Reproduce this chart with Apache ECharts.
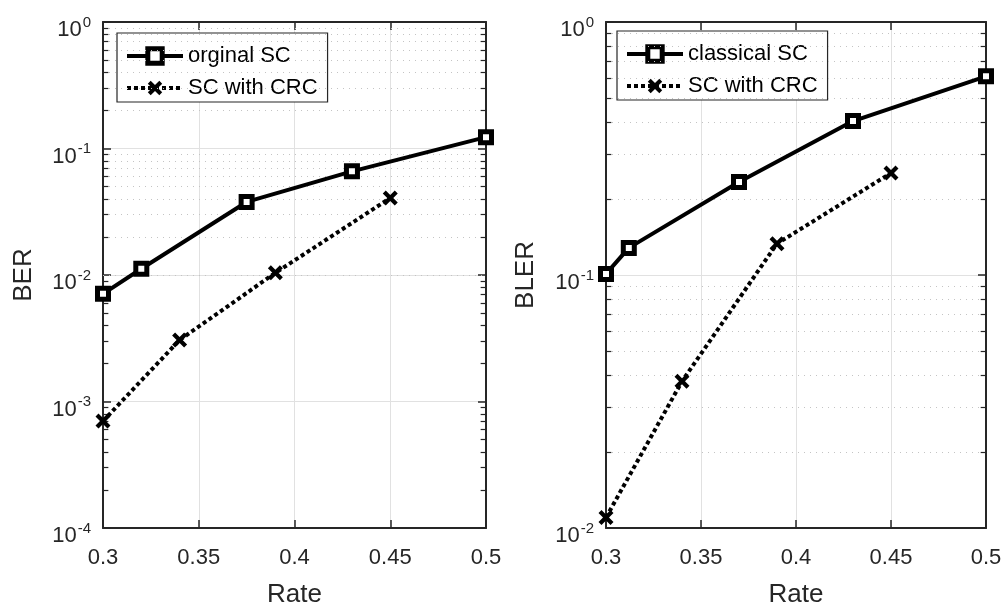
<!DOCTYPE html>
<html>
<head>
<meta charset="utf-8">
<script src="https://cdn.jsdelivr.net/npm/echarts@6/dist/echarts.min.js"></script>
<style>
  html, body { margin: 0; padding: 0; background: #fff; }
  #chart { width: 1006px; height: 605px; }
</style>
</head>
<body>
<div id="chart"></div>
<script>
// Left panel: bit error rate vs. code rate
const ratesOriginal = [0.3, 0.32, 0.375, 0.43, 0.5];
const berOriginal = [0.0071, 0.0112, 0.0378, 0.066, 0.123];
const ratesCrcLeft = [0.3, 0.34, 0.39, 0.45];
const berCrc = [0.0007, 0.00306, 0.0104, 0.0406];

// Right panel: block error rate vs. code rate
const ratesClassical = [0.3, 0.312, 0.37, 0.43, 0.5];
const blerClassical = [0.101, 0.128, 0.233, 0.406, 0.61];
const ratesCrcRight = [0.3, 0.34, 0.39, 0.45];
const blerCrc = [0.011, 0.038, 0.133, 0.253];

const legendLeft = ['orginal SC', 'SC with CRC'];
const legendRight = ['classical SC', 'SC with CRC'];
const xLabel = 'Rate';
const yLabelLeft = 'BER';
const yLabelRight = 'BLER';

const FONT = '"Liberation Sans", Arial, Helvetica, sans-serif';
const INK = '#262626';
const X_MIN = 0.3, X_MAX = 0.5, X_STEP = 0.05;

const chart = echarts.init(document.getElementById('chart'), null, { renderer: 'canvas' });

const crossPath = 'path://M0,2 L2,0 L5,3 L8,0 L10,2 L7,5 L10,8 L8,10 L5,7 L2,10 L0,8 L3,5 Z';

function pairs(xs, ys) { return xs.map((x, i) => [x, ys[i]]); }

function minorValues(lowExp, highExp) {
  const out = [];
  for (let e = lowExp; e < highExp; e++) {
    for (let k = 2; k <= 9; k++) out.push(k * Math.pow(10, e));
  }
  return out;
}

function logLabel(v) {
  const e = Math.round(Math.log10(v));
  return '{b|10}{s|' + e + '}';
}

function xAxes(gridIndex) {
  return [
    {
      type: 'value', gridIndex, position: 'bottom', min: X_MIN, max: X_MAX, interval: X_STEP,
      name: xLabel, nameLocation: 'middle', nameGap: 54,
      nameTextStyle: { fontFamily: FONT, fontSize: 26, color: INK },
      axisLine: { show: true, lineStyle: { color: INK, width: 2 } },
      axisTick: { show: true, inside: true, length: 8, lineStyle: { color: INK, width: 1.5 } },
      axisLabel: { fontFamily: FONT, fontSize: 22, color: INK, margin: 19,
        formatter: v => String(+v.toFixed(2)) },
      splitLine: { show: true, lineStyle: { color: '#e1e1e1', width: 1 } }
    },
    {
      type: 'value', gridIndex, position: 'top', min: X_MIN, max: X_MAX, interval: X_STEP,
      axisLine: { show: true, lineStyle: { color: INK, width: 2 } },
      axisTick: { show: true, inside: true, length: 8, lineStyle: { color: INK, width: 1.5 } },
      axisLabel: { show: false },
      splitLine: { show: false }
    }
  ];
}

function yAxes(gridIndex, min, name, gap) {
  const common = {
    type: 'log', logBase: 10, gridIndex, min, max: 1,
    axisLine: { show: true, lineStyle: { color: INK, width: 2 } },
    axisTick: { show: true, inside: true, length: 8, lineStyle: { color: INK, width: 1.5 } }
  };
  return [
    Object.assign({}, common, {
      position: 'left',
      name, nameLocation: 'middle', nameGap: gap,
      nameTextStyle: { fontFamily: FONT, fontSize: 26, color: INK },
      axisLabel: {
        margin: 12, formatter: logLabel, padding: [16, 0, 0, 0],
        rich: {
          b: { fontFamily: FONT, fontSize: 22, color: INK },
          s: { fontFamily: FONT, fontSize: 15, color: INK, padding: [0, 0, 15, 1] }
        }
      },
      splitLine: { show: true, lineStyle: { color: '#e1e1e1', width: 1 } }
    }),
    Object.assign({}, common, {
      position: 'right',
      axisLabel: { show: false },
      splitLine: { show: false }
    })
  ];
}

// Dotted minor grid plus short inward minor ticks on both vertical edges
function minorGridSeries(xAxisIndex, yAxisIndex, lowExp) {
  const tickSpan = (X_MAX - X_MIN) * 0.014;
  const vals = minorValues(lowExp, 0);
  const lines = vals.map(v => ({ yAxis: v }));
  const ticks = [];
  vals.forEach(v => {
    ticks.push([{ coord: [X_MIN, v], lineStyle: { type: 'solid', color: INK, width: 1.2 } },
                { coord: [X_MIN + tickSpan, v] }]);
    ticks.push([{ coord: [X_MAX - tickSpan, v], lineStyle: { type: 'solid', color: INK, width: 1.2 } },
                { coord: [X_MAX, v] }]);
  });
  return {
    type: 'line', xAxisIndex, yAxisIndex, data: [], z: 1, silent: true,
    markLine: {
      silent: true, symbol: ['none', 'none'], label: { show: false }, animation: false,
      lineStyle: { color: '#c4c4c4', width: 1, type: [1, 5] },
      emphasis: { disabled: true },
      data: lines.concat(ticks)
    }
  };
}

function solidSeries(name, xAxisIndex, yAxisIndex, xs, ys) {
  return {
    name, type: 'line', xAxisIndex, yAxisIndex, data: pairs(xs, ys), z: 5,
    symbol: 'rect', symbolSize: 11, showAllSymbol: true,
    itemStyle: { color: '#fff', borderColor: '#000', borderWidth: 5 },
    lineStyle: { color: '#000', width: 4 },
    animation: false
  };
}

function dottedSeries(name, xAxisIndex, yAxisIndex, xs, ys) {
  return {
    name, type: 'line', xAxisIndex, yAxisIndex, data: pairs(xs, ys), z: 5,
    symbol: crossPath, symbolSize: 15, showAllSymbol: true,
    itemStyle: { color: '#000', borderWidth: 0 },
    lineStyle: { color: '#000', width: 4, type: [4, 3] },
    animation: false
  };
}

function legendFor(names, left, top) {
  return {
    data: names, orient: 'vertical', left, top,
    padding: [12, 10, 3, 8], itemGap: 10, itemWidth: 56, itemHeight: 18,
    backgroundColor: '#fff', borderColor: INK, borderWidth: 1.2, borderRadius: 0,
    selectedMode: false,
    lineStyle: { width: 4 },
    itemStyle: { borderWidth: 5 },
    textStyle: { fontFamily: FONT, fontSize: 22, color: '#000' }
  };
}

chart.setOption({
  animation: false,
  backgroundColor: '#fff',
  grid: [
    { left: 103, right: 520, top: 22, bottom: 77, outerBoundsMode: 'none', containLabel: false },
    { left: 606, right: 20, top: 22, bottom: 77, outerBoundsMode: 'none', containLabel: false }
  ],
  xAxis: xAxes(0).concat(xAxes(1)),
  yAxis: yAxes(0, 1e-4, yLabelLeft, 66).concat(yAxes(1, 1e-2, yLabelRight, 67)),
  legend: [legendFor(legendLeft, 117, 33), legendFor(legendRight, 617, 31)],
  series: [
    minorGridSeries(0, 0, -4),
    minorGridSeries(2, 2, -2),
    solidSeries(legendLeft[0], 0, 0, ratesOriginal, berOriginal),
    dottedSeries(legendLeft[1], 0, 0, ratesCrcLeft, berCrc),
    solidSeries(legendRight[0], 2, 2, ratesClassical, blerClassical),
    dottedSeries(legendRight[1], 2, 2, ratesCrcRight, blerCrc)
  ]
});
</script>
</body>
</html>
